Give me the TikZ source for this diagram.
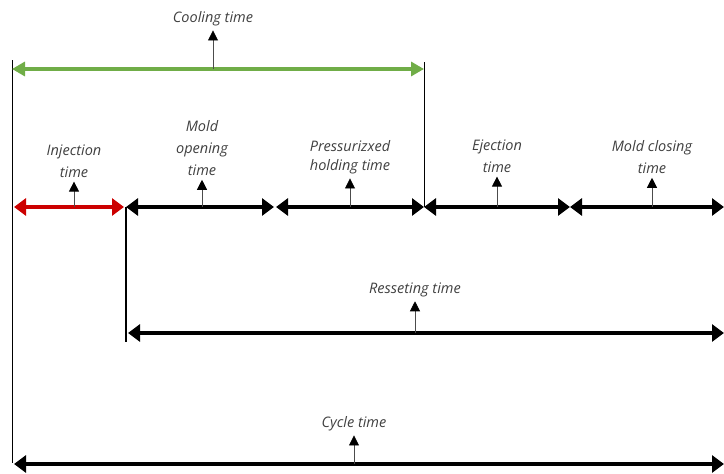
\documentclass[tikz,border=0pt]{standalone}
\usepackage{fontspec}
\setmainfont{Open Sans}
\usetikzlibrary{arrows.meta}
\definecolor{coolgreen}{HTML}{70AD47}
\definecolor{injred}{HTML}{CC0000}
\definecolor{txtgray}{HTML}{404040}
\begin{document}
\begin{tikzpicture}[x=1pt,y=-1pt,
  span/.style={line width=3.8pt, {Triangle[length=12pt,width=17pt]}-{Triangle[length=12pt,width=17pt]}},
  gspan/.style={line width=3.2pt, draw=coolgreen, {Triangle[length=13pt,width=14pt]}-{Triangle[length=13pt,width=14pt]}},
  stem/.style={line width=0.8pt, draw=black!70, -{Triangle[length=10pt,width=10pt,color=black]}, shorten >=4pt},
  lbl/.style={font=\itshape\fontsize{14.5}{22}\selectfont, text=txtgray, align=center, inner sep=0pt},
  guide/.style={line width=0.9pt, draw=black}
]
\useasboundingbox (0,0) rectangle (724,474);

% guide lines
\coordinate (gl1) at (12,60);  \coordinate (gl2) at (12,463);
\coordinate (gr1) at (424,62); \coordinate (gr2) at (424,207);
\coordinate (gm1) at (126,207); \coordinate (gm2) at (126,342);
\draw[guide] (gl1) -- (gl2);
\draw[guide] (gr1) -- (gr2);
\draw[line width=1.4pt] (gm1) -- (gm2);

% span end points
\coordinate (c0) at (12,69);  \coordinate (c1) at (424,69);  \coordinate (cm) at (213,69);
\coordinate (i0) at (14,207); \coordinate (i1) at (124,207); \coordinate (im) at (74,207);
\coordinate (o0) at (126,207); \coordinate (o1) at (274,207); \coordinate (om) at (202,207);
\coordinate (p0) at (276,207); \coordinate (p1) at (424,207); \coordinate (pm) at (350,207);
\coordinate (e0) at (424,207); \coordinate (e1) at (570,207); \coordinate (em) at (497,207);
\coordinate (k0) at (570,207); \coordinate (k1) at (724,207); \coordinate (km) at (652,207);
\coordinate (r0) at (128,333); \coordinate (r1) at (724,333); \coordinate (rm) at (415,333);
\coordinate (y0) at (14,464); \coordinate (y1) at (724,464); \coordinate (ym) at (354,464);

% labels
\node[lbl] (cool) at (213,19) {Cooling time};
\node[lbl] (inj) at (74,161) {Injection\\time};
\node[lbl] (open) at (202,148) {Mold\\opening\\time};
\node[lbl, font=\itshape\fontsize{14.5}{19}\selectfont] (press) at (350,157.5) {Pressurizxed\\holding time};
\node[lbl] (ejec) at (497,156) {Ejection\\time};
\node[lbl] (close) at (652,157) {Mold closing\\time};
\node[lbl] (reset) at (415,290) {Resseting time};
\node[lbl] (cyc) at (354,424) {Cycle time};

% spans
\draw[gspan] (c0) -- (c1);
\draw[span, draw=injred] (i0) -- (i1);
\draw[span] (o0) -- (o1);
\draw[span] (p0) -- (p1);
\draw[span] (e0) -- (e1);
\draw[span] (k0) -- (k1);
\draw[span] (r0) -- (r1);
\draw[span] (y0) -- (y1);

% stems
\draw[stem] (cm) -- (cool);
\draw[stem] (im) -- (inj);
\draw[stem] (om) -- (open);
\draw[stem] (pm) -- (press);
\draw[stem] (em) -- (ejec);
\draw[stem] (km) -- (close);
\draw[stem] (rm) -- (reset);
\draw[stem] (ym) -- (cyc);
\end{tikzpicture}
\end{document}
